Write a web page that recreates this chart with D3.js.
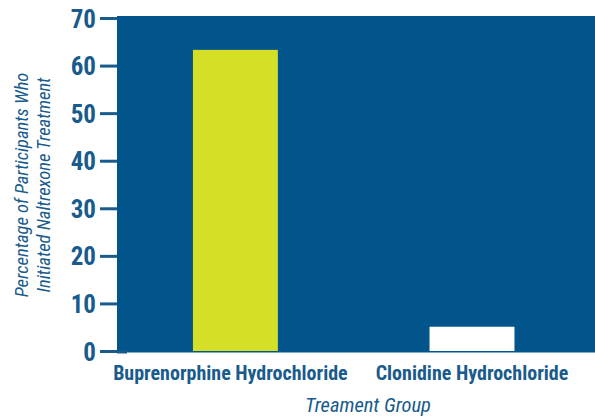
<!DOCTYPE html>
<html>
<head>
<meta charset="utf-8">
<script src="https://cdn.jsdelivr.net/npm/d3@7"></script>
<style>
  body { margin: 0; background: #fff; }
  svg text { font-family: "Liberation Sans Narrow", "Roboto Condensed", "Arial Narrow", "Liberation Sans", sans-serif; }
</style>
</head>
<body>
<svg id="chart" width="595" height="417"></svg>
<script>
'use strict';

// data
var groups = ['Buprenorphine Hydrochloride', 'Clonidine Hydrochloride'];
var percents = [63.3, 5.1];
var barColors = ['#d4df26', '#ffffff'];
var yTicks = [0, 10, 20, 30, 40, 50, 60, 70];

var blue = '#02558b';
var ink = '#195b8c';

var svg = d3.select('#chart');

var x = d3.scaleBand()
  .domain(groups)
  .range([117, 590.4])
  .paddingInner(0.641)
  .paddingOuter(0.321);

var y = d3.scaleLinear()
  .domain([0, 70])
  .range([351, 18]);

// plot background
svg.append('rect')
  .attr('x', 117)
  .attr('y', 16)
  .attr('width', 595 - 117)
  .attr('height', 352.5 - 16)
  .style('fill', blue);

// bars
svg.selectAll('rect.bar')
  .data(groups)
  .enter().append('rect')
  .attr('class', 'bar')
  .attr('x', function (d) { return x(d); })
  .attr('width', x.bandwidth())
  .attr('y', function (d, i) { return y(percents[i]); })
  .attr('height', function (d, i) { return y(0) - y(percents[i]); })
  .style('fill', function (d, i) { return barColors[i]; });

// y axis
var yAxis = svg.append('g')
  .attr('transform', 'translate(117,0)')
  .call(d3.axisLeft(y).tickValues(yTicks).tickSize(17).tickPadding(4));
yAxis.select('.domain').remove();
yAxis.selectAll('.tick line')
  .style('stroke', ink)
  .style('stroke-width', 3);
yAxis.selectAll('.tick text')
  .style('fill', ink)
  .style('font-size', '25px')
  .style('font-weight', 'bold')
  .attr('dy', '0.36em');

// the zero line runs a little into the plot
svg.append('line')
  .attr('x1', 117).attr('x2', 127)
  .attr('y1', y(0) + 1).attr('y2', y(0) + 1)
  .style('stroke', ink)
  .style('stroke-width', 3);

// x axis labels
var xAxis = svg.append('g')
  .attr('transform', 'translate(0,352)')
  .call(d3.axisBottom(x).tickSize(0).tickPadding(0));
xAxis.select('.domain').remove();
xAxis.selectAll('.tick text')
  .attr('y', 28)
  .attr('dy', 0)
  .style('fill', ink)
  .style('font-size', '20px')
  .style('font-weight', 'bold');
xAxis.select('.tick text').attr('x', -5);

// axis titles
svg.append('text')
  .attr('x', 368)
  .attr('y', 412)
  .attr('text-anchor', 'middle')
  .style('fill', ink)
  .style('font-size', '20.5px')
  .style('font-style', 'italic')
  .text('Treament Group');

var yTitle = svg.append('text')
  .attr('transform', 'translate(0,185) rotate(-90)')
  .attr('text-anchor', 'middle')
  .style('fill', ink)
  .style('font-size', '18.5px')
  .style('font-style', 'italic');
yTitle.append('tspan').attr('x', 0).attr('y', 28).text('Percentage of Participants Who');
yTitle.append('tspan').attr('x', 0).attr('y', 50).text('Initiated Naltrexone Treatment');
</script>
</body>
</html>
